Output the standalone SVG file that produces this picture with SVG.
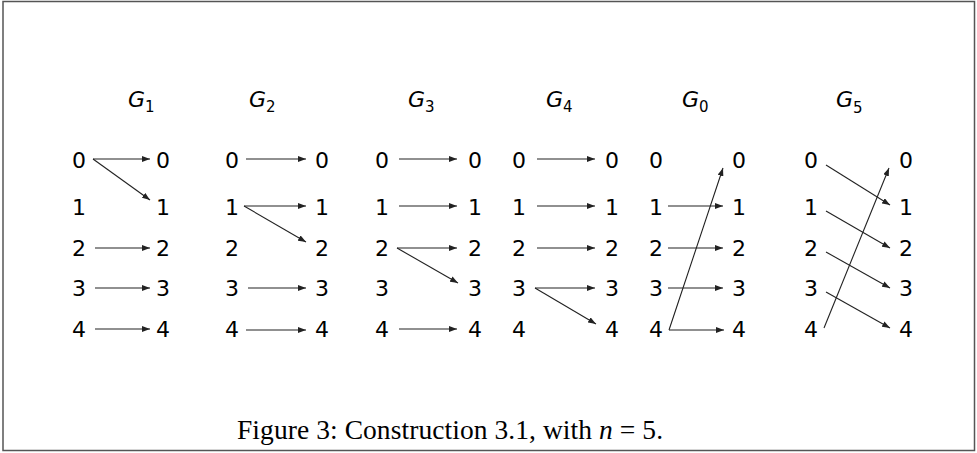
<svg xmlns="http://www.w3.org/2000/svg" width="977" height="453" viewBox="0 0 977 453">
<style>
.d{font-family:"DejaVu Sans","Liberation Sans",sans-serif;font-size:22px;fill:#000;text-anchor:middle}
.t{font-family:"DejaVu Sans","Liberation Sans",sans-serif;font-size:22px;font-style:italic;fill:#000}
.s{font-size:15px;font-style:normal}
.e{stroke:#222;stroke-width:1.1;fill:none;marker-end:url(#ah)}
.cap{font-family:"Liberation Serif","DejaVu Serif",serif;font-size:27.5px;fill:#000;text-anchor:middle}
</style>
<defs>
<marker id="ah" viewBox="0 0 8 6" refX="8" refY="3" markerWidth="8" markerHeight="6" markerUnits="userSpaceOnUse" orient="auto">
<path d="M0,0 L8,3 L0,6 z" fill="#222"/>
</marker>
</defs>
<rect x="3" y="1.5" width="971.5" height="449" fill="#fff" stroke="#555" stroke-width="1.5"/>

<g id="G1">
<text class="t" x="128" y="107">G<tspan class="s" dy="5">1</tspan></text>
<text class="d" x="79" y="168">0</text><text class="d" x="79" y="215">1</text><text class="d" x="79" y="256">2</text><text class="d" x="79" y="296">3</text><text class="d" x="79" y="337">4</text>
<text class="d" x="163" y="168">0</text><text class="d" x="163" y="215">1</text><text class="d" x="163" y="256">2</text><text class="d" x="163" y="296">3</text><text class="d" x="163" y="337">4</text>
</g>
<g id="G2">
<text class="t" x="249" y="107">G<tspan class="s" dy="5">2</tspan></text>
<text class="d" x="232" y="168">0</text><text class="d" x="232" y="215">1</text><text class="d" x="232" y="256">2</text><text class="d" x="232" y="296">3</text><text class="d" x="232" y="337">4</text>
<text class="d" x="322" y="168">0</text><text class="d" x="322" y="215">1</text><text class="d" x="322" y="256">2</text><text class="d" x="322" y="296">3</text><text class="d" x="322" y="337">4</text>
</g>
<g id="G3">
<text class="t" x="408" y="107">G<tspan class="s" dy="5">3</tspan></text>
<text class="d" x="382" y="168">0</text><text class="d" x="382" y="215">1</text><text class="d" x="382" y="256">2</text><text class="d" x="382" y="296">3</text><text class="d" x="382" y="337">4</text>
<text class="d" x="475" y="168">0</text><text class="d" x="475" y="215">1</text><text class="d" x="475" y="256">2</text><text class="d" x="475" y="296">3</text><text class="d" x="475" y="337">4</text>
</g>
<g id="G4">
<text class="t" x="546" y="107">G<tspan class="s" dy="5">4</tspan></text>
<text class="d" x="519" y="168">0</text><text class="d" x="519" y="215">1</text><text class="d" x="519" y="256">2</text><text class="d" x="519" y="296">3</text><text class="d" x="519" y="337">4</text>
<text class="d" x="612" y="168">0</text><text class="d" x="612" y="215">1</text><text class="d" x="612" y="256">2</text><text class="d" x="612" y="296">3</text><text class="d" x="612" y="337">4</text>
</g>
<g id="G0">
<text class="t" x="682" y="107">G<tspan class="s" dy="5">0</tspan></text>
<text class="d" x="656" y="168">0</text><text class="d" x="656" y="215">1</text><text class="d" x="656" y="256">2</text><text class="d" x="656" y="296">3</text><text class="d" x="656" y="337">4</text>
<text class="d" x="739" y="168">0</text><text class="d" x="739" y="215">1</text><text class="d" x="739" y="256">2</text><text class="d" x="739" y="296">3</text><text class="d" x="739" y="337">4</text>
</g>
<g id="G5">
<text class="t" x="836" y="107">G<tspan class="s" dy="6">5</tspan></text>
<text class="d" x="811" y="168">0</text><text class="d" x="811" y="215">1</text><text class="d" x="811" y="256">2</text><text class="d" x="811" y="296">3</text><text class="d" x="811" y="337">4</text>
<text class="d" x="906" y="168">0</text><text class="d" x="906" y="215">1</text><text class="d" x="906" y="256">2</text><text class="d" x="906" y="296">3</text><text class="d" x="906" y="337">4</text>
</g>

<g id="connectors">
<line class="e" x1="93" y1="159" x2="150" y2="159"/>
<line class="e" x1="93" y1="159" x2="150" y2="200"/>
<line class="e" x1="95" y1="248" x2="150" y2="248"/>
<line class="e" x1="95" y1="288" x2="150" y2="288"/>
<line class="e" x1="95" y1="329" x2="150" y2="329"/>

<line class="e" x1="246" y1="159" x2="306" y2="159"/>
<line class="e" x1="244" y1="206" x2="306" y2="206"/>
<line class="e" x1="244" y1="206" x2="306" y2="242"/>
<line class="e" x1="248" y1="288" x2="306" y2="288"/>
<line class="e" x1="246" y1="330" x2="306" y2="330"/>

<line class="e" x1="399" y1="159" x2="457" y2="159"/>
<line class="e" x1="399" y1="206" x2="457" y2="206"/>
<line class="e" x1="397" y1="248" x2="457" y2="248"/>
<line class="e" x1="397" y1="248" x2="458" y2="283"/>
<line class="e" x1="399" y1="329" x2="457" y2="329"/>

<line class="e" x1="537" y1="159" x2="595" y2="159"/>
<line class="e" x1="537" y1="206" x2="595" y2="206"/>
<line class="e" x1="537" y1="248" x2="595" y2="248"/>
<line class="e" x1="535" y1="288" x2="595" y2="288"/>
<line class="e" x1="535" y1="288" x2="596" y2="324"/>

<line class="e" x1="668" y1="206" x2="723" y2="206"/>
<line class="e" x1="668" y1="248" x2="723" y2="248"/>
<line class="e" x1="668" y1="288" x2="723" y2="288"/>
<line class="e" x1="669" y1="330" x2="724" y2="330"/>
<line class="e" x1="669" y1="330" x2="723" y2="168"/>

<line class="e" x1="826" y1="165" x2="890" y2="205"/>
<line class="e" x1="826" y1="211" x2="890" y2="248"/>
<line class="e" x1="826" y1="252" x2="890" y2="288"/>
<line class="e" x1="826" y1="292" x2="890" y2="328"/>
<line class="e" x1="824" y1="328" x2="889" y2="168"/>
</g>

<text class="cap" x="450" y="439" textLength="426" lengthAdjust="spacing">Figure 3:  Construction 3.1, with <tspan font-style="italic">n</tspan> = 5.</text>
</svg>
